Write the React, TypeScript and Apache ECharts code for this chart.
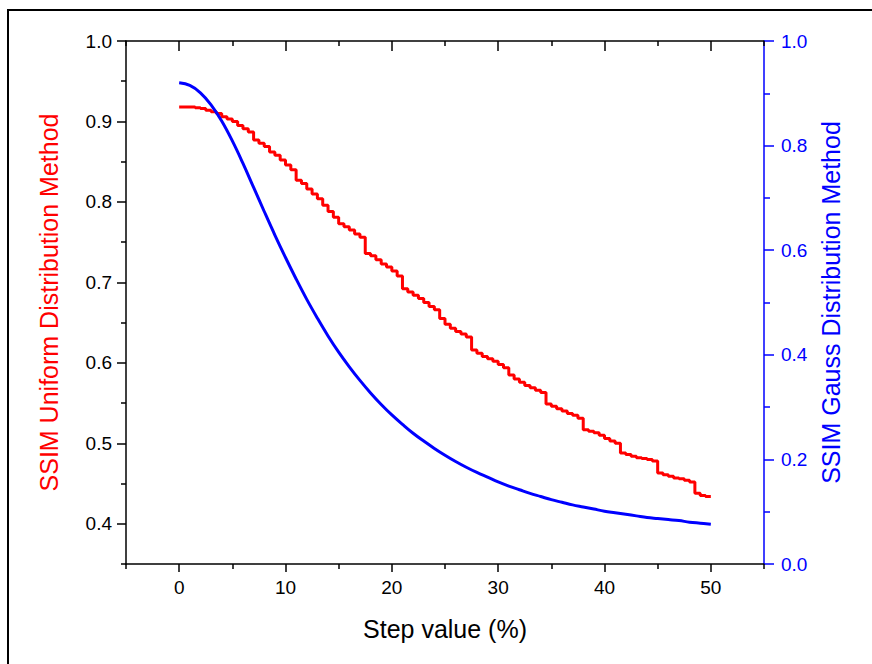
import React, { useEffect, useRef } from "react";
import * as echarts from "echarts";

// ---- Data ----
const redX: number[] = [
  0, 0.5, 1, 1.5, 2, 2.5, 3, 3.5, 4, 4.5, 5, 5.5, 6, 6.5, 7, 7.5, 8, 8.5, 9, 9.5,
  10, 10.5, 11, 11.5, 12, 12.5, 13, 13.5, 14, 14.5, 15, 15.5, 16, 16.5, 17, 17.5, 18, 18.5, 19, 19.5,
  20, 20.5, 21, 21.5, 22, 22.5, 23, 23.5, 24, 24.5, 25, 25.5, 26, 26.5, 27, 27.5, 28, 28.5, 29, 29.5,
  30, 30.5, 31, 31.5, 32, 32.5, 33, 33.5, 34, 34.5, 35, 35.5, 36, 36.5, 37, 37.5, 38, 38.5, 39, 39.5,
  40, 40.5, 41, 41.5, 42, 42.5, 43, 43.5, 44, 44.5, 45, 45.5, 46, 46.5, 47, 47.5, 48, 48.5, 49, 49.5, 50,
];
const uniformSSIM: number[] = [
  0.918, 0.918, 0.918, 0.917, 0.916, 0.914, 0.912, 0.91, 0.906, 0.903, 0.9, 0.895, 0.891, 0.887, 0.877, 0.873, 0.869, 0.862, 0.858, 0.852,
  0.846, 0.84, 0.827, 0.823, 0.816, 0.81, 0.804, 0.796, 0.788, 0.781, 0.773, 0.769, 0.765, 0.76, 0.756, 0.736, 0.733, 0.728, 0.723, 0.719,
  0.714, 0.708, 0.692, 0.688, 0.684, 0.68, 0.675, 0.67, 0.666, 0.655, 0.648, 0.643, 0.639, 0.636, 0.632, 0.616, 0.612, 0.608, 0.605, 0.602,
  0.598, 0.594, 0.585, 0.58, 0.576, 0.572, 0.569, 0.566, 0.563, 0.549, 0.546, 0.543, 0.54, 0.537, 0.535, 0.531, 0.517, 0.515, 0.513, 0.51,
  0.506, 0.503, 0.5, 0.488, 0.486, 0.484, 0.482, 0.481, 0.48, 0.478, 0.463, 0.461, 0.459, 0.457, 0.456, 0.454, 0.452, 0.438, 0.435, 0.434, 0.434,
];
const blueX: number[] = [
  0, 1, 2, 3, 4, 5, 6, 7, 8, 9, 10, 11, 12, 13, 14, 15, 16, 17, 18, 19, 20, 21, 22, 23, 24, 25,
  26, 27, 28, 29, 30, 31, 32, 33, 34, 35, 36, 37, 38, 39, 40, 41, 42, 43, 44, 45, 46, 47, 48, 49, 50,
];
const gaussSSIM: number[] = [
  0.92, 0.915, 0.901, 0.878, 0.847, 0.809, 0.766, 0.72, 0.674, 0.629, 0.586, 0.545, 0.506, 0.47, 0.436, 0.405,
  0.377, 0.351, 0.327, 0.305, 0.285, 0.267, 0.25, 0.235, 0.221, 0.208, 0.196, 0.185, 0.175, 0.166, 0.157,
  0.149, 0.142, 0.135, 0.129, 0.123, 0.118, 0.113, 0.109, 0.105, 0.101, 0.098, 0.095, 0.092, 0.089, 0.087,
  0.085, 0.083, 0.08, 0.078, 0.076,
];

const xMajorTicks: number[] = [0, 10, 20, 30, 40, 50];
const xMinorTicks: number[] = [-5, 5, 15, 25, 35, 45, 55];
const yLeftMajorTicks: number[] = [0.4, 0.5, 0.6, 0.7, 0.8, 0.9, 1.0];
const yLeftMinorTicks: number[] = [0.35, 0.45, 0.55, 0.65, 0.75, 0.85, 0.95];
const yRightMajorTicks: number[] = [0, 0.2, 0.4, 0.6, 0.8, 1.0];
const yRightMinorTicks: number[] = [0.1, 0.3, 0.5, 0.7, 0.9];

const xTitle = "Step value (%)";
const leftTitle = "SSIM Uniform Distribution Method";
const rightTitle = "SSIM Gauss Distribution Method";

const FONT = "'Liberation Sans', Arial, sans-serif";
const RED = "#ff0000";
const BLUE = "#0000ff";
const BLACK = "#000000";

export default function App() {
  const ref = useRef<HTMLDivElement>(null);

  useEffect(() => {
    if (!ref.current) return;
    const chart = echarts.init(ref.current, null, { renderer: "svg" });

    const hiddenLabel = { show: false };
    const noSplit = { show: false };

    const option: any = {
      animation: false,
      backgroundColor: "#ffffff",
      textStyle: { fontFamily: FONT },
      grid: { left: 126, right: 108, top: 41, bottom: 100, containLabel: false },
      graphic: [
        {
          type: "rect",
          shape: { x: 8, y: 10, width: 900, height: 700 },
          style: { fill: "none", stroke: BLACK, lineWidth: 2 },
          silent: true,
        },
      ],
      xAxis: [
        {
          type: "value",
          position: "bottom",
          min: -5,
          max: 55,
          axisLine: { show: true, onZero: false, lineStyle: { color: BLACK, width: 1.5 } },
          axisTick: { show: true, customValues: xMajorTicks, length: 8, lineStyle: { color: BLACK, width: 1.5 } },
          axisLabel: { show: true, customValues: xMajorTicks, margin: 14, fontSize: 19, color: BLACK, fontFamily: FONT },
          splitLine: noSplit,
          name: xTitle,
          nameLocation: "middle",
          nameGap: 52,
          nameTextStyle: { fontSize: 25, color: BLACK, fontFamily: FONT },
        },
        {
          type: "value",
          position: "bottom",
          min: -5,
          max: 55,
          axisLine: { show: false, onZero: false },
          axisTick: { show: true, customValues: xMinorTicks, length: 5, lineStyle: { color: BLACK, width: 1.5 } },
          axisLabel: hiddenLabel,
          splitLine: noSplit,
        },
        {
          type: "value",
          position: "top",
          min: -5,
          max: 55,
          axisLine: { show: true, onZero: false, lineStyle: { color: BLACK, width: 1.5 } },
          axisTick: { show: true, inside: true, customValues: xMajorTicks, length: 10, lineStyle: { color: BLACK, width: 1.5 } },
          axisLabel: hiddenLabel,
          splitLine: noSplit,
        },
        {
          type: "value",
          position: "top",
          min: -5,
          max: 55,
          axisLine: { show: false, onZero: false },
          axisTick: { show: true, inside: true, customValues: xMinorTicks, length: 5, lineStyle: { color: BLACK, width: 1.5 } },
          axisLabel: hiddenLabel,
          splitLine: noSplit,
        },
      ],
      yAxis: [
        {
          type: "value",
          position: "left",
          min: 0.35,
          max: 1.0,
          axisLine: { show: true, onZero: false, lineStyle: { color: BLACK, width: 1.5 } },
          axisTick: { show: true, customValues: yLeftMajorTicks, length: 9, lineStyle: { color: BLACK, width: 1.5 } },
          axisLabel: {
            show: true,
            customValues: yLeftMajorTicks,
            margin: 14,
            fontSize: 19,
            color: BLACK,
            fontFamily: FONT,
            formatter: (v: number) => v.toFixed(1),
          },
          splitLine: noSplit,
          name: leftTitle,
          nameLocation: "middle",
          nameGap: 65,
          nameTextStyle: { fontSize: 25, color: RED, fontFamily: FONT },
        },
        {
          type: "value",
          position: "left",
          min: 0.35,
          max: 1.0,
          axisLine: { show: false, onZero: false },
          axisTick: { show: true, customValues: yLeftMinorTicks, length: 5, lineStyle: { color: BLACK, width: 1.5 } },
          axisLabel: hiddenLabel,
          splitLine: noSplit,
        },
        {
          type: "value",
          position: "right",
          min: 0,
          max: 1.0,
          axisLine: { show: true, onZero: false, lineStyle: { color: BLUE, width: 1.5 } },
          axisTick: { show: true, customValues: yRightMajorTicks, length: 10, lineStyle: { color: BLUE, width: 1.5 } },
          axisLabel: {
            show: true,
            customValues: yRightMajorTicks,
            margin: 17,
            fontSize: 19,
            color: BLUE,
            fontFamily: FONT,
            formatter: (v: number) => v.toFixed(1),
          },
          splitLine: noSplit,
          name: rightTitle,
          nameLocation: "middle",
          nameGap: 54,
          nameTextStyle: { fontSize: 25, color: BLUE, fontFamily: FONT },
        },
        {
          type: "value",
          position: "right",
          min: 0,
          max: 1.0,
          axisLine: { show: false, onZero: false },
          axisTick: { show: true, customValues: yRightMinorTicks, length: 6, lineStyle: { color: BLUE, width: 1.5 } },
          axisLabel: hiddenLabel,
          splitLine: noSplit,
        },
      ],
      series: [
        {
          name: leftTitle,
          type: "line",
          xAxisIndex: 0,
          yAxisIndex: 0,
          step: "end",
          showSymbol: false,
          symbol: "none",
          lineStyle: { color: RED, width: 3 },
          itemStyle: { color: RED },
          data: redX.map((x, i) => [x, uniformSSIM[i]]),
        },
        {
          name: rightTitle,
          type: "line",
          xAxisIndex: 0,
          yAxisIndex: 2,
          smooth: 0.4,
          showSymbol: false,
          symbol: "none",
          lineStyle: { color: BLUE, width: 3 },
          itemStyle: { color: BLUE },
          data: blueX.map((x, i) => [x, gaussSSIM[i]]),
        },
      ],
    };

    chart.setOption(option);
    return () => {
      chart.dispose();
    };
  }, []);

  return (
    <div
      ref={ref}
      style={{ position: "fixed", left: 0, top: 0, width: 872, height: 664, background: "#ffffff" }}
    />
  );
}
